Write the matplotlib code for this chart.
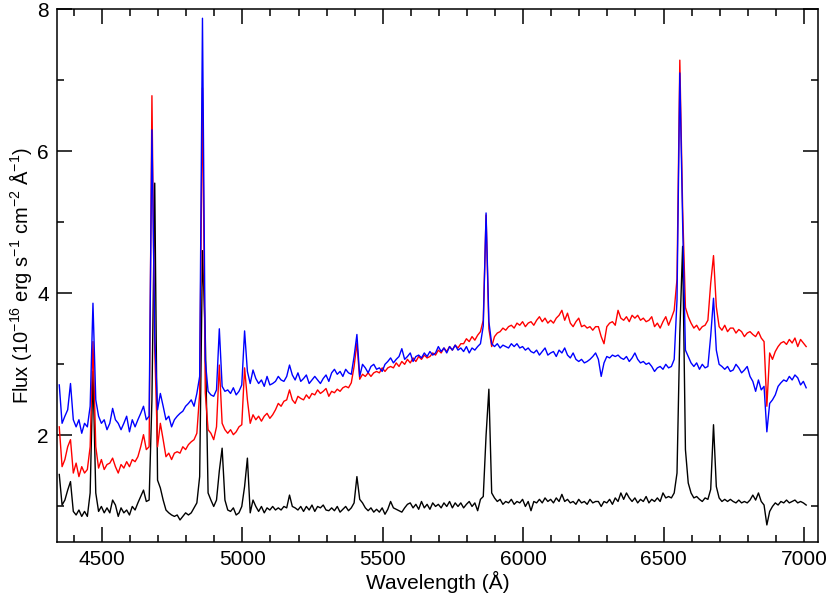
import numpy as np
import matplotlib
matplotlib.use('Agg')
import matplotlib.pyplot as plt
from matplotlib.ticker import MultipleLocator

plt.rcParams['font.family'] = ['Liberation Sans', 'DejaVu Sans']
plt.rcParams['mathtext.default'] = 'regular'

# wavelength grid (Angstrom), 10 A steps
wave = np.arange(4348, 7009, 10)

# black spectrum
flux_black = [
    1.45, 1.02, 1.09, 1.23, 1.35, 0.93, 0.88, 0.95, 0.86, 0.93,
    0.86, 1.19, 2.90, 1.19, 0.93, 1.00, 0.91, 0.98, 0.91, 1.09,
    1.02, 0.86, 0.98, 0.91, 0.95, 0.88, 1.00, 0.95, 1.05, 1.14,
    1.23, 1.07, 1.09, 2.50, 5.55, 1.37, 1.26, 1.09, 0.95, 0.91,
    0.88, 0.86, 0.88, 0.81, 0.86, 0.91, 0.88, 0.91, 0.98, 1.05,
    1.42, 4.60, 3.40, 1.19, 1.09, 1.00, 1.09, 1.50, 1.82, 1.09,
    0.95, 0.93, 0.98, 0.88, 0.91, 1.00, 1.28, 1.68, 0.91, 1.09,
    1.00, 0.93, 1.00, 0.91, 0.98, 0.95, 1.00, 0.95, 0.98, 0.95,
    1.00, 0.98, 1.16, 1.00, 0.98, 0.95, 1.00, 0.93, 1.00, 0.95,
    1.02, 0.93, 1.00, 0.98, 1.02, 0.95, 0.94, 0.98, 0.94, 1.00,
    0.92, 0.96, 1.00, 0.94, 0.98, 1.05, 1.42, 1.10, 1.05, 0.98,
    0.94, 0.98, 0.92, 0.96, 0.92, 0.98, 0.89, 0.96, 1.07, 0.98,
    0.96, 0.94, 0.92, 0.98, 1.03, 1.05, 0.98, 1.03, 0.96, 1.07,
    0.98, 1.03, 0.96, 1.05, 1.00, 1.03, 0.98, 1.05, 1.00, 1.07,
    0.98, 1.05, 1.00, 1.05, 0.98, 1.03, 1.07, 1.00, 1.05, 0.94,
    1.10, 1.14, 2.00, 2.65, 1.19, 1.12, 1.07, 1.10, 1.03, 1.07,
    1.05, 1.10, 1.03, 1.07, 1.05, 1.10, 1.00, 1.07, 0.94, 1.07,
    1.05, 1.10, 1.05, 1.12, 1.07, 1.10, 1.05, 1.12, 1.07, 1.17,
    1.07, 1.10, 1.05, 1.07, 1.03, 1.10, 1.05, 1.07, 1.03, 1.10,
    1.05, 1.07, 1.07, 1.00, 1.07, 1.05, 1.10, 1.03, 1.12, 1.07,
    1.19, 1.10, 1.19, 1.12, 1.07, 1.12, 1.05, 1.10, 1.07, 1.14,
    1.05, 1.10, 1.07, 1.12, 1.07, 1.19, 1.12, 1.14, 1.12, 1.19,
    1.47, 3.44, 4.66, 1.80, 1.33, 1.19, 1.12, 1.14, 1.10, 1.07,
    1.12, 1.10, 1.24, 2.15, 1.28, 1.12, 1.07, 1.10, 1.07, 1.10,
    1.07, 1.05, 1.09, 1.05, 1.07, 1.05, 1.09, 1.16, 1.09, 1.19,
    1.07, 1.02, 0.74, 0.93, 1.00, 1.05, 1.02, 1.07, 1.05, 1.09,
    1.05, 1.07, 1.09, 1.05, 1.07, 1.05, 1.02]

# red spectrum
flux_red = [
    2.12, 1.56, 1.66, 1.84, 1.94, 1.47, 1.61, 1.42, 1.56, 1.47,
    1.52, 1.84, 3.32, 1.84, 1.54, 1.66, 1.52, 1.59, 1.61, 1.68,
    1.56, 1.47, 1.59, 1.54, 1.63, 1.56, 1.66, 1.63, 1.70, 1.84,
    2.01, 1.80, 1.84, 6.78, 3.20, 1.84, 2.17, 1.94, 1.70, 1.75,
    1.66, 1.75, 1.77, 1.75, 1.84, 1.80, 1.87, 1.91, 1.94, 2.03,
    2.59, 6.89, 2.60, 2.08, 2.03, 1.94, 2.12, 2.99, 2.17, 2.08,
    2.03, 2.08, 2.01, 2.05, 2.12, 2.15, 2.95, 2.50, 2.17, 2.29,
    2.22, 2.27, 2.20, 2.27, 2.31, 2.24, 2.29, 2.36, 2.45, 2.41,
    2.48, 2.50, 2.64, 2.50, 2.45, 2.55, 2.52, 2.50, 2.57, 2.52,
    2.59, 2.57, 2.64, 2.59, 2.62, 2.66, 2.55, 2.62, 2.60, 2.65,
    2.62, 2.67, 2.69, 2.67, 2.74, 2.97, 3.30, 2.79, 2.86, 2.83,
    2.88, 2.83, 2.88, 2.90, 2.88, 2.95, 2.90, 2.95, 2.97, 2.95,
    3.02, 2.97, 3.04, 3.00, 3.07, 3.02, 3.09, 3.04, 3.11, 3.07,
    3.13, 3.09, 3.11, 3.16, 3.13, 3.20, 3.16, 3.23, 3.18, 3.25,
    3.20, 3.27, 3.23, 3.29, 3.29, 3.36, 3.32, 3.39, 3.34, 3.41,
    3.46, 3.62, 5.10, 3.50, 3.25, 3.39, 3.44, 3.46, 3.51, 3.48,
    3.53, 3.55, 3.51, 3.58, 3.55, 3.60, 3.53, 3.58, 3.60, 3.55,
    3.62, 3.67, 3.60, 3.65, 3.58, 3.62, 3.58, 3.65, 3.69, 3.76,
    3.62, 3.72, 3.58, 3.53, 3.60, 3.65, 3.53, 3.55, 3.51, 3.53,
    3.48, 3.53, 3.53, 3.39, 3.29, 3.53, 3.58, 3.60, 3.55, 3.76,
    3.65, 3.62, 3.67, 3.60, 3.69, 3.65, 3.69, 3.62, 3.65, 3.60,
    3.62, 3.67, 3.53, 3.58, 3.51, 3.60, 3.67, 3.55, 3.65, 3.76,
    4.20, 7.28, 5.20, 3.80, 3.67, 3.58, 3.51, 3.55, 3.48, 3.53,
    3.55, 3.62, 4.14, 4.53, 3.81, 3.53, 3.48, 3.55, 3.46, 3.51,
    3.51, 3.44, 3.49, 3.46, 3.39, 3.44, 3.46, 3.42, 3.39, 3.46,
    3.37, 3.32, 2.41, 3.16, 3.07, 3.18, 3.25, 3.30, 3.32, 3.28,
    3.35, 3.30, 3.37, 3.25, 3.35, 3.30, 3.25]

# blue spectrum
flux_blue = [
    2.71, 2.17, 2.27, 2.36, 2.73, 2.22, 2.12, 2.22, 2.03, 2.17,
    2.12, 2.41, 3.86, 2.50, 2.27, 2.17, 2.22, 2.08, 2.17, 2.38,
    2.22, 2.17, 2.08, 2.17, 2.27, 2.05, 2.22, 2.12, 2.22, 2.31,
    2.41, 2.22, 2.27, 6.30, 3.40, 2.36, 2.59, 2.41, 2.22, 2.27,
    2.12, 2.22, 2.27, 2.31, 2.34, 2.41, 2.45, 2.50, 2.41, 2.59,
    2.83, 7.87, 3.06, 2.62, 2.57, 2.55, 2.64, 3.50, 2.69, 2.62,
    2.64, 2.59, 2.67, 2.57, 2.62, 2.71, 3.47, 2.90, 2.73, 2.92,
    2.80, 2.73, 2.78, 2.69, 2.83, 2.71, 2.73, 2.76, 2.83, 2.78,
    2.76, 2.83, 2.99, 2.85, 2.78, 2.88, 2.76, 2.80, 2.85, 2.73,
    2.78, 2.83, 2.78, 2.73, 2.80, 2.85, 2.76, 2.88, 2.93, 2.86,
    2.90, 2.83, 2.93, 2.88, 2.86, 3.11, 3.42, 2.83, 3.00, 2.95,
    2.88, 2.97, 3.00, 2.93, 2.95, 2.90, 3.00, 3.04, 3.09, 3.02,
    3.07, 3.11, 3.22, 3.07, 3.11, 3.16, 3.04, 3.11, 3.13, 3.09,
    3.16, 3.11, 3.18, 3.13, 3.16, 3.25, 3.18, 3.23, 3.16, 3.25,
    3.20, 3.27, 3.20, 3.23, 3.18, 3.25, 3.16, 3.23, 3.20, 3.25,
    3.29, 3.54, 5.13, 3.60, 3.29, 3.25, 3.29, 3.23, 3.27, 3.25,
    3.23, 3.29, 3.25, 3.29, 3.23, 3.25, 3.20, 3.23, 3.18, 3.16,
    3.20, 3.13, 3.18, 3.23, 3.13, 3.16, 3.18, 3.11, 3.20, 3.16,
    3.23, 3.13, 3.09, 3.16, 3.07, 3.04, 3.07, 3.02, 3.04, 3.07,
    3.11, 3.16, 3.07, 2.83, 3.02, 3.11, 3.09, 3.13, 3.11, 3.13,
    3.09, 3.07, 3.11, 3.04, 3.09, 3.16, 3.07, 3.02, 3.04, 3.00,
    3.02, 2.97, 2.90, 2.95, 2.97, 2.93, 3.00, 2.95, 2.97, 3.07,
    3.91, 7.10, 5.00, 3.20, 3.11, 3.02, 2.97, 3.02, 2.93, 3.00,
    2.95, 2.97, 3.40, 3.93, 3.20, 3.00, 2.97, 2.93, 2.97, 2.90,
    2.92, 3.00, 2.95, 2.88, 2.92, 2.97, 2.83, 2.76, 2.62, 2.78,
    2.64, 2.69, 2.05, 2.45, 2.50, 2.57, 2.69, 2.74, 2.78, 2.76,
    2.83, 2.78, 2.85, 2.81, 2.71, 2.76, 2.67]

fig = plt.figure(figsize=(8.30, 6.01), dpi=100)
ax = fig.add_axes([0.0687, 0.0982, 0.9168, 0.8868])

ax.plot(wave, flux_black, color='black', lw=1.0)
ax.plot(wave, flux_red, color='red', lw=1.0)
ax.plot(wave, flux_blue, color='blue', lw=1.0)

ax.set_xlim(4340, 7050)
ax.set_ylim(0.5, 8.0)
ax.xaxis.set_major_locator(MultipleLocator(500))
ax.xaxis.set_minor_locator(MultipleLocator(100))
ax.yaxis.set_major_locator(MultipleLocator(2))
ax.yaxis.set_minor_locator(MultipleLocator(1))
ax.tick_params(which='both', direction='in', top=True, right=True,
               labelsize=15, width=1.1)
ax.tick_params(which='major', length=11, pad=6)
ax.tick_params(which='minor', length=5)
for sp in ax.spines.values():
    sp.set_linewidth(1.1)

ax.set_xlabel('Wavelength (Å)', fontsize=15, labelpad=1)
ax.set_ylabel(r'Flux (10$^{-16}$ erg s$^{-1}$ cm$^{-2}$ Å$^{-1}$)',
              fontsize=14.5, labelpad=2)

fig.savefig('out.png', dpi=100)
